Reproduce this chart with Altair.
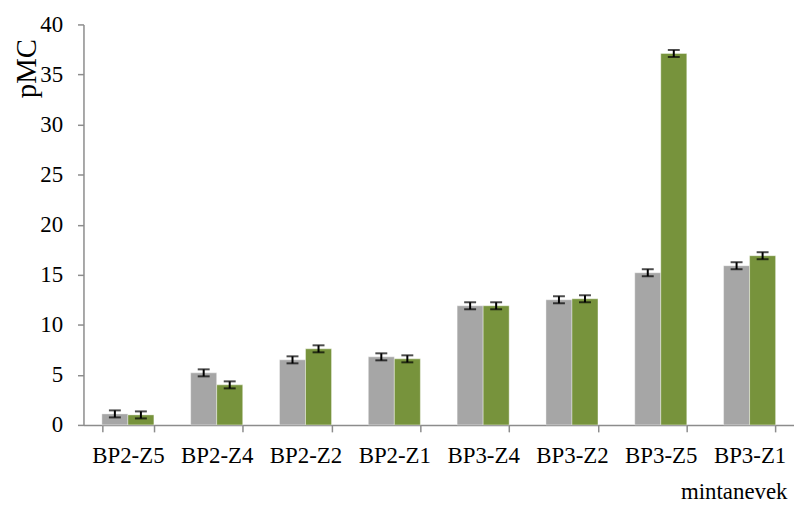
import altair as alt
import pandas as pd

# Sample names along the x axis
samples = ["BP2-Z5", "BP2-Z4", "BP2-Z2", "BP2-Z1", "BP3-Z4", "BP3-Z2", "BP3-Z5", "BP3-Z1"]

# pMC values for the two measurement series
series_a = [1.1, 5.2, 6.5, 6.8, 11.9, 12.5, 15.2, 15.9]
series_b = [1.0, 4.0, 7.6, 6.6, 11.9, 12.6, 37.1, 16.9]

# Measurement uncertainties (± pMC)
err_a = [0.35, 0.35, 0.35, 0.35, 0.35, 0.35, 0.35, 0.35]
err_b = [0.35, 0.35, 0.35, 0.35, 0.35, 0.35, 0.35, 0.35]

series_names = ["A", "B"]
colors = ["#A6A6A6", "#77933C"]

rows = []
for name, vals, errs in zip(series_names, [series_a, series_b], [err_a, err_b]):
    for s, v, e in zip(samples, vals, errs):
        rows.append({"minta": s, "sor": name, "pMC": v, "lo": v - e, "hi": v + e})
df = pd.DataFrame(rows)

serif = "Liberation Serif"
axis_color = "#8C8C8C"

x_enc = alt.X(
    "minta:N",
    sort=samples,
    scale=alt.Scale(paddingInner=0.414, paddingOuter=0.207),
    axis=alt.Axis(
        title="mintanevek",
        titleFont=serif,
        titleFontSize=23,
        titleFontWeight="normal",
        titleColor="black",
        titleX=708,
        titleY=74,
        titleAlign="right",
        titleBaseline="alphabetic",
        labelFont=serif,
        labelFontSize=23,
        labelColor="black",
        labelAngle=0,
        labelPadding=13,
        tickBand="extent",
        tickSize=7,
        tickColor=axis_color,
        tickWidth=1.5,
        domainColor=axis_color,
        domainWidth=1.5,
        grid=False,
    ),
)

y_scale = alt.Scale(domain=[0, 40], nice=False)
y_axis = alt.Axis(
    title="pMC",
    titleFont=serif,
    titleFontSize=29,
    titleFontWeight="normal",
    titleColor="black",
    titleAngle=-90,
    titleX=-48,
    titleY=44,
    titleAlign="center",
    titleBaseline="alphabetic",
    values=[0, 5, 10, 15, 20, 25, 30, 35, 40],
    labelFont=serif,
    labelFontSize=23,
    labelColor="black",
    labelPadding=15,
    tickSize=6,
    tickColor=axis_color,
    tickWidth=1.5,
    domainColor=axis_color,
    domainWidth=1.5,
    grid=False,
)

x_off = alt.XOffset("sor:N", sort=series_names, scale=alt.Scale(paddingInner=0, paddingOuter=0))

bars = alt.Chart(df).mark_bar(stroke="#FFFFFF", strokeWidth=0.8, strokeOpacity=0.5).encode(
    x=x_enc,
    xOffset=x_off,
    y=alt.Y("pMC:Q", scale=y_scale, axis=y_axis),
    color=alt.Color("sor:N", scale=alt.Scale(domain=series_names, range=colors), legend=None),
)

stems = alt.Chart(df).mark_rule(color="black", strokeWidth=2).encode(
    x=alt.X("minta:N", sort=samples),
    xOffset=x_off,
    y=alt.Y("lo:Q", scale=y_scale),
    y2="hi:Q",
)

caps_lo = alt.Chart(df).mark_tick(color="black", thickness=2, size=12, orient="horizontal").encode(
    x=alt.X("minta:N", sort=samples),
    xOffset=x_off,
    y=alt.Y("lo:Q", scale=y_scale),
)
caps_hi = alt.Chart(df).mark_tick(color="black", thickness=2, size=12, orient="horizontal").encode(
    x=alt.X("minta:N", sort=samples),
    xOffset=x_off,
    y=alt.Y("hi:Q", scale=y_scale),
)

chart = (
    alt.layer(bars, stems, caps_lo, caps_hi)
    .properties(
        width=715,
        height=403,
        padding={"left": 84, "top": 23, "right": 0, "bottom": 80},
        autosize=alt.AutoSizeParams(type="none"),
        background="white",
    )
    .configure_view(stroke=None)
)

chart.save("out.html", embed_options={"renderer": "svg", "actions": False})
